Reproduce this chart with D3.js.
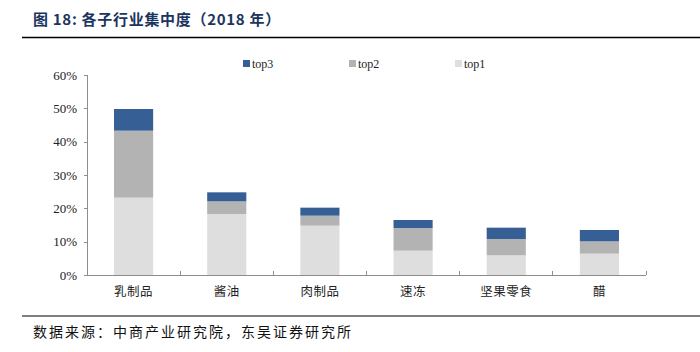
<!DOCTYPE html>
<html lang="zh">
<head>
    <meta charset="UTF-8">
    <title>各子行业集中度</title>
    <script src="https://cdn.jsdelivr.net/npm/d3@7/dist/d3.min.js"></script>
    <style>
        body { margin: 0; background: #fff; }
        .axis path, .axis line { fill: none; stroke: #8c8c8c; shape-rendering: crispEdges; }
        .yaxis text { font-family: "Liberation Serif", serif; font-size: 13px; fill: #222; }
        .xaxis text { font-family: "Noto Sans CJK SC", sans-serif; font-size: 12.5px; fill: #222; letter-spacing: 0.5px; }
        .legend text { font-family: "Liberation Serif", serif; font-size: 12px; fill: #222; }
    </style>
</head>
<body>
<script>
	var width = 700, height = 352;
	var categories = ["乳制品", "酱油", "肉制品", "速冻", "坚果零食", "醋"];
	// 各层份额 (%), 堆叠顺序 top1 -> top2 -> top3
	var top1 = [23.2, 18.3, 14.8, 7.3, 5.9, 6.4];
	var top2 = [20.1, 3.8, 3.0, 6.8, 4.9, 3.7];
	var top3 = [6.5, 2.7, 2.4, 2.4, 3.4, 3.4];
	var yTicks = [0, 10, 20, 30, 40, 50, 60];
	var seriesNames = ["top1", "top2", "top3"];
	var colors = {top1: "#dedede", top2: "#b3b3b3", top3: "#365f95"};

	var svg = d3.select("body").append("svg")
		.attr("width", width)
		.attr("height", height);

	// 标题
	svg.append("text")
		.attr("x", 33).attr("y", 25)
		.attr("font-family", "Noto Sans CJK SC, sans-serif")
		.attr("font-size", 15).attr("font-weight", "bold")
		.attr("letter-spacing", 0.7)
		.attr("fill", "#1c355e")
		.text("图 18:  各子行业集中度（2018 年）");
	svg.append("line")
		.attr("x1", 22).attr("x2", 700).attr("y1", 37.5).attr("y2", 37.5)
		.attr("stroke", "#000").attr("stroke-width", 1.5);
	svg.append("line")
		.attr("x1", 22).attr("x2", 700).attr("y1", 316).attr("y2", 316)
		.attr("stroke", "#000").attr("stroke-width", 1.2);
	svg.append("text")
		.attr("x", 33).attr("y", 337)
		.attr("font-family", "Noto Sans CJK SC, sans-serif")
		.attr("font-size", 14).attr("fill", "#111")
		.attr("letter-spacing", 2)
		.text("数据来源：中商产业研究院，东吴证券研究所");

	var plot = {left: 87, right: 646, top: 75, bottom: 275};

	var xScale = d3.scaleBand()
		.domain(categories)
		.range([plot.left, plot.right])
		.paddingInner(0.58).paddingOuter(0.29);
	var yScale = d3.scaleLinear()
		.domain([0, 60])
		.range([plot.bottom, plot.top]);

	var rows = categories.map(function (c, i) {
		return {cat: c, top1: top1[i], top2: top2[i], top3: top3[i]};
	});
	var stack = d3.stack().keys(seriesNames)(rows);

	svg.append("g").selectAll("g")
		.data(stack)
		.enter().append("g")
		.attr("fill", function (d) { return colors[d.key]; })
		.selectAll("rect")
		.data(function (d) { return d; })
		.enter().append("rect")
		.attr("x", function (d) { return xScale(d.data.cat); })
		.attr("y", function (d) { return yScale(d[1]); })
		.attr("width", xScale.bandwidth())
		.attr("height", function (d) { return yScale(d[0]) - yScale(d[1]); });

	// y轴
	var yAxis = d3.axisLeft(yScale)
		.tickValues(yTicks)
		.tickSize(3)
		.tickPadding(7)
		.tickFormat(function (d) { return d + "%"; });
	svg.append("g")
		.attr("class", "axis yaxis")
		.attr("transform", "translate(" + plot.left + ",0)")
		.call(yAxis)
		.call(function (g) { g.select(".domain").attr("d", "M-3," + plot.top + "H0V" + plot.bottom); });

	// x轴, 分类间刻度朝上
	var xAxis = d3.axisBottom(xScale).tickSize(0).tickPadding(12);
	var xg = svg.append("g")
		.attr("class", "axis xaxis")
		.attr("transform", "translate(0," + plot.bottom + ")")
		.call(xAxis);
	xg.select(".domain").attr("d", "M" + plot.left + ",0H" + plot.right);
	xg.selectAll(".sep")
		.data(d3.range(1, categories.length + 1))
		.enter().append("line")
		.attr("class", "sep")
		.attr("x1", function (i) { return plot.left + i * (plot.right - plot.left) / categories.length; })
		.attr("x2", function (i) { return plot.left + i * (plot.right - plot.left) / categories.length; })
		.attr("y1", 0).attr("y2", -4);

	// 图例
	var legendOrder = ["top3", "top2", "top1"];
	var legend = svg.append("g").attr("class", "legend")
		.selectAll("g")
		.data(legendOrder)
		.enter().append("g")
		.attr("transform", function (d, i) { return "translate(" + (243 + i * 106) + ",60)"; });
	legend.append("rect")
		.attr("width", 7).attr("height", 7)
		.attr("fill", function (d) { return colors[d]; });
	legend.append("text")
		.attr("x", 9).attr("y", 7.5)
		.text(function (d) { return d; });
</script>
</body>
</html>
